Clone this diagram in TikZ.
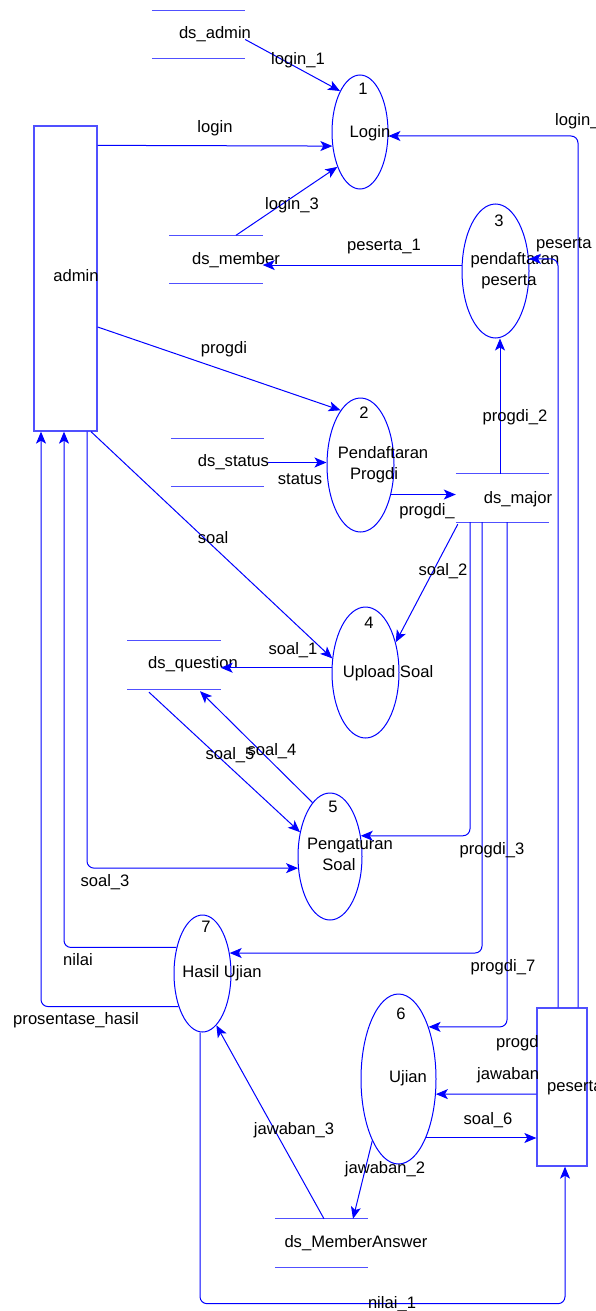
\documentclass[tikz,border=0pt]{standalone}
\usepackage{fontspec}
\setmainfont{Liberation Sans}
\usetikzlibrary{arrows.meta,shapes.geometric}
\definecolor{dfdblue}{RGB}{0,0,255}
\definecolor{dfdlight}{RGB}{80,80,255}
\begin{document}
\begin{tikzpicture}[x=1pt,y=-1pt,
  proc/.style={draw=dfdblue, line width=1pt, ellipse, inner sep=0pt},
  store/.style={inner sep=0pt, minimum width=93pt, minimum height=48pt},
  sline/.style={draw=dfdlight, line width=1.3pt},
  ext/.style={draw=dfdlight, line width=1.3pt, rectangle, inner sep=0pt},
  txt/.style={font=\fontsize{16.6pt}{19pt}\selectfont, inner sep=0pt, anchor=mid, text=black},
  flow/.style={draw=dfdblue, line width=1pt, rounded corners=7pt, -{Stealth[length=12pt,width=10pt,inset=3pt]}},
]
\useasboundingbox (0,0) rectangle (595,1311);
\clip (0,0) rectangle (595,1311);

% processes
\node[proc, minimum width=56pt, minimum height=114pt] (p1) at (360,132) {};
\node[proc, minimum width=67pt, minimum height=134pt] (p2) at (360.5,465) {};
\node[proc, minimum width=67pt, minimum height=134pt] (p3) at (495.5,271) {};
\node[proc, minimum width=67pt, minimum height=131pt] (p4) at (365.5,672.5) {};
\node[proc, minimum width=64pt, minimum height=127pt] (p5) at (330,856.5) {};
\node[proc, minimum width=75pt, minimum height=170pt] (p6) at (398.5,1079) {};
\node[proc, minimum width=57pt, minimum height=117pt] (p7) at (202.5,973.5) {};

% external entities
\node[ext, minimum width=63pt, minimum height=305pt] (admin) at (65.5,278.5) {};
\node[ext, minimum width=50pt, minimum height=158pt] (pst) at (562,1087) {};

% data stores
\node[store] (dsadmin) at (198.5,34.5) {};
\node[store] (dsmember) at (216,259.5) {};
\node[store] (dsstatus) at (217.5,462.5) {};
\node[store] (dsmajor) at (502.5,498) {};
\node[store] (dsquestion) at (174,665) {};
\node[store] (dsma) at (321.5,1243) {};
\foreach \s in {dsadmin,dsmember,dsstatus,dsmajor,dsquestion,dsma}{
  \draw[sline] (\s.north west) -- (\s.north east) (\s.south west) -- (\s.south east);
}

% texts of nodes
\node[txt] (t1n) at (363,92) {1};
\node[txt] (t1) at (370,135) {Login};
\node[txt] (t2n) at (364,416) {2};
\node[txt] (t2a) at (383,456) {Pendaftaran};
\node[txt] (t2b) at (374,477) {Progdi};
\node[txt] (t3n) at (499,224) {3};
\node[txt] (t3a) at (515,262) {pendaftaran};
\node[txt] (t3b) at (509,283) {peserta};
\node[txt] (t4n) at (369,626) {4};
\node[txt] (t4) at (388,675) {Upload Soal};
\node[txt] (t5n) at (333,810) {5};
\node[txt] (t5a) at (350,847) {Pengaturan};
\node[txt] (t5b) at (339,868) {Soal};
\node[txt] (t6n) at (401,1017) {6};
\node[txt] (t6) at (408,1080) {Ujian};
\node[txt] (t7n) at (206,930) {7};
\node[txt] (t7) at (222,975) {Hasil Ujian};
\node[txt] (tadmin) at (76,279) {admin};
\node[txt, anchor=mid west] (tpst) at (547,1089) {peserta};
\node[txt] (tdsadmin) at (215,36) {ds\_admin};
\node[txt] (tdsmember) at (236,262) {ds\_member};
\node[txt] (tdsstatus) at (233.5,464) {ds\_status};
\node[txt] (tdsmajor) at (518,501) {ds\_major};
\node[txt] (tdsquestion) at (193,666) {ds\_question};
\node[txt] (tdsma) at (356,1245) {ds\_MemberAnswer};

% flows
\draw[flow] ([yshift=-5pt]dsadmin.east) -- (p1.116);
\draw[flow] ([yshift=-20pt]admin.north east) -- (p1.207);
\draw[flow] ([xshift=20pt]dsmember.north) -- (p1.237);
\draw[flow] (p3.170) -- (dsmember.east |- p3.170);
\draw[flow] ([yshift=-48.5pt]admin.east) -- (p2.110);
\draw[flow] ([xshift=4pt]dsstatus.east) -- (p2.west |- dsstatus.east);
\draw[flow] (p2.316) -- (dsmajor.west |- p2.316);
\draw[flow] ([xshift=-2.5pt]dsmajor.north) -- ([xshift=-2.5pt]dsmajor.north |- p3.south);
\draw[flow] ([xshift=16pt]pst.north) |- (p1.352);
\draw[flow] ([xshift=-4pt]pst.north) |- (p3.20);
\draw[flow] ([xshift=25.5pt]admin.south) -- (p4.157);
\draw[flow] ([xshift=2pt,yshift=-2pt]dsmajor.south west) -- (p4.45);
\draw[flow] (p4.172) -- (dsquestion.east |- p4.172);
\draw[flow] ([xshift=-25pt,yshift=-3pt]dsquestion.south) -- (p5.141);
\draw[flow] (p5.108) -- ([xshift=26pt,yshift=-2pt]dsquestion.south);
\draw[flow] ([xshift=21.5pt]admin.south) |- (p5.200);
\draw[flow] ([xshift=-32.5pt]dsmajor.south) |- (p5.34);
\draw[flow] ([xshift=-20.5pt]dsmajor.south) |- (p7.37);
\draw[flow] ([xshift=4.5pt]dsmajor.south) |- (p6.60);
\draw[flow] (p7.135) -| ([xshift=-1.5pt]admin.south);
\draw[flow] (p7.234) -| ([xshift=-24.5pt]admin.south);
\draw[flow] ([yshift=-7pt]pst.west) -- (p6.338);
\draw[flow] (p6.295) -- (pst.west |- p6.295);
\draw[flow] (p6.247) -- ([xshift=31.5pt]dsma.north);
\draw[flow] ([xshift=2.5pt]dsma.north) -- (p7.285);
\draw[flow] ([xshift=-2.5pt]p7.south) |- ([xshift=3pt,yshift=-137pt]pst.south) -- ([xshift=3pt]pst.south);

% flow labels
\node[txt] (l1) at (298,62) {login\_1};
\node[txt] (l2) at (215,130) {login};
\node[txt] (l3) at (292,207) {login\_3};
\node[txt, anchor=mid west] (l4) at (555,123) {login\_};
\node[txt] (l5) at (384,248) {peserta\_1};
\node[txt, anchor=mid west] (l6) at (536,246) {peserta};
\node[txt] (l7) at (224,351) {progdi};
\node[txt] (l8) at (300,482) {status};
\node[txt] (l9) at (427,513) {progdi\_};
\node[txt] (l10) at (515,419) {progdi\_2};
\node[txt] (l11) at (213,541) {soal};
\node[txt] (l12) at (443,573) {soal\_2};
\node[txt] (l13) at (293,652) {soal\_1};
\node[txt] (l14) at (230,757) {soal\_5};
\node[txt] (l15) at (272,753) {soal\_4};
\node[txt] (l16) at (105,884) {soal\_3};
\node[txt] (l17) at (492,852) {progdi\_3};
\node[txt] (l18) at (78,963) {nilai};
\node[txt] (l19) at (76,1022) {prosentase\_hasil};
\node[txt] (l20) at (503,969) {progdi\_7};
\node[txt] (l21) at (488,1122) {soal\_6};
\node[txt] (l22) at (385,1171) {jawaban\_2};
\node[txt] (l23) at (294,1132) {jawaban\_3};
\node[txt] (l24) at (392,1306) {nilai\_1};
\begin{scope}
  \clip (400,1000) rectangle (537,1110);
  \node[txt, anchor=mid west] (l25) at (496,1045) {progdi\_6};
  \node[txt, anchor=mid west] (l26) at (477,1077) {jawaban\_1};
\end{scope}
\end{tikzpicture}
\end{document}
